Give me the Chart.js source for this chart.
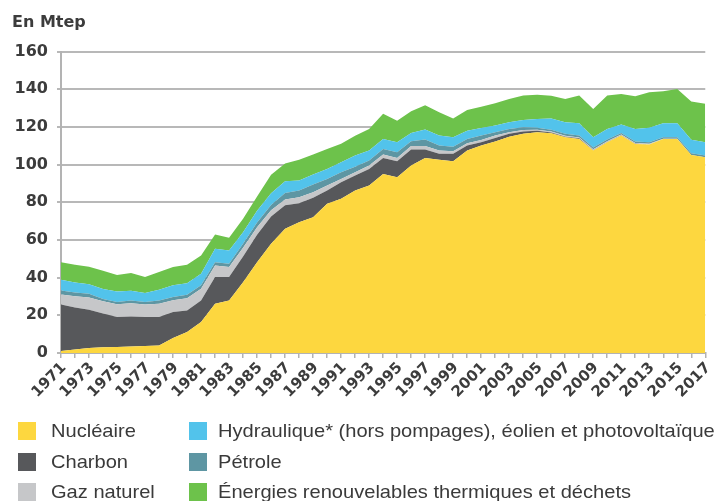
<!DOCTYPE html>
<html><head><meta charset="utf-8">
<script src="https://cdn.jsdelivr.net/npm/chart.js@4.4.0/dist/chart.umd.min.js"></script>
<style>
html,body{margin:0;padding:0;background:#fff;}
#wrap{position:relative;width:719px;height:501px;overflow:hidden;}
canvas{position:absolute;left:0;top:0;}
#legend{position:absolute;left:0;top:0;width:719px;height:501px;font-family:"Liberation Sans",Arial,sans-serif;font-size:18.6px;color:#3a3a3a;}
.sw{position:absolute;width:18px;height:18px;}
.tx{position:absolute;white-space:nowrap;line-height:22px;transform:scaleX(1.08);transform-origin:0 50%;}
</style></head><body>
<div id="wrap"><canvas id="c" width="719" height="501"></canvas><div id="legend"></div></div>
<script>
const years = ['1971','1972','1973','1974','1975','1976','1977','1978','1979','1980',
 '1981','1982','1983','1984','1985','1986','1987','1988','1989','1990',
 '1991','1992','1993','1994','1995','1996','1997','1998','1999','2000',
 '2001','2002','2003','2004','2005','2006','2007','2008','2009','2010',
 '2011','2012','2013','2014','2015','2016','2017'];

const nucleaire = [1.0,1.8,2.7,3.0,3.2,3.5,3.7,4.0,8.0,11.1,
 16.4,26.2,27.9,37.6,48.2,58.0,65.9,69.4,72.1,79.2,
 81.8,86.2,88.9,95.0,93.3,99.5,103.5,102.5,101.7,107.4,
 110.1,112.3,114.8,116.3,117.1,116.6,114.5,113.6,107.4,111.8,
 115.4,110.9,110.6,113.6,113.6,105.1,103.9];
const charbon = [24.8,22.3,20.3,17.9,15.9,15.9,15.4,15.1,13.7,11.5,
 11.5,14.1,12.4,13.6,14.5,14.5,12.5,10.1,10.3,7.0,
 8.8,8.0,8.8,8.5,8.4,8.5,4.5,3.2,4.0,2.7,
 1.7,1.8,1.5,1.2,0.8,0.4,0.3,0.3,0.2,0.2,
 0.1,0.1,0.1,0,0,0,0];
const gazNaturel = [5.3,6.0,6.5,6.5,6.8,7.0,6.6,7.0,6.3,6.5,
 6.2,6.2,5.3,4.7,4.0,3.2,3.0,3.2,2.9,2.7,
 1.8,1.7,1.8,1.8,1.8,1.8,1.8,1.7,1.3,1.2,
 1.3,1.3,0.8,0.9,0.6,0.6,0.5,0.5,0.5,0.4,
 0.4,0.4,0.3,0.1,0.05,0.02,0.02];
const petrole = [2.1,2.0,2.0,1.3,1.2,1.4,1.3,1.7,1.7,1.8,
 1.8,1.7,1.8,2.1,2.6,2.9,3.5,3.5,4.1,3.5,
 3.5,3.0,2.6,3.0,3.0,2.6,3.5,2.7,2.5,2.3,
 2.3,1.7,1.8,1.4,1.0,0.9,1.0,1.0,0.9,0.9,
 0.9,0.8,0.8,0.8,0.8,0.9,0.9];
const hydraulique = [5.7,5.3,5.0,5.3,5.5,5.3,4.8,5.8,6.2,6.1,
 6.2,7.1,7.0,6.1,6.2,6.2,6.2,5.3,5.3,5.3,
 5.3,5.9,5.3,5.3,5.3,4.4,5.3,5.3,5.0,4.4,
 4.0,3.6,3.5,3.9,4.7,6.0,6.1,6.5,5.5,5.6,
 4.4,6.7,7.7,7.4,7.45,7.1,7.0];
const enrThermiques = [9.3,9.4,9.3,9.7,8.8,9.4,8.5,9.4,9.7,9.8,
 9.7,7.6,6.7,7.1,7.5,9.8,9.5,11.0,10.6,10.6,
 9.8,10.5,11.5,13.3,11.5,11.5,12.9,12.3,10.0,11.0,
 11.3,11.8,12.4,12.9,12.9,12.0,12.4,14.7,15.0,17.7,
 16.3,17.3,18.9,17.0,18.2,20.4,20.4];

const seriesLabels = ['Nucléaire','Charbon','Gaz naturel','Pétrole',
 'Hydraulique* (hors pompages), éolien et photovoltaïque',
 'Énergies renouvelables thermiques et déchets'];
const seriesColors = ['#FDD73F','#57585B','#C6C7C9','#5E96A3','#52C3EB','#6DC24B'];
const seriesData = [nucleaire, charbon, gazNaturel, petrole, hydraulique, enrThermiques];

const tickFontColor = '#3c3c3c';
const datasets = seriesData.map((d,i)=>({
  label: seriesLabels[i], data: d,
  backgroundColor: seriesColors[i],
  borderColor: 'rgba(0,0,0,0)', borderWidth: 0,
  pointRadius: 0, tension: 0,
  fill: i===0 ? 'origin' : '-1'
}));

const chart = new Chart(document.getElementById('c'), {
  type: 'line',
  data: { labels: years, datasets },
  options: {
    responsive: false, animation: false,
    layout: { padding: { left: 12, right: 9, top: 0, bottom: 98 } },
    plugins: {
      legend: { display: false }, tooltip: { enabled: false },
      title: { display: true, text: 'En Mtep', align: 'start', color: tickFontColor,
        font: { family: 'DejaVu Sans', size: 16, weight: 'bold', lineHeight: 1.2 },
        padding: { top: 13, bottom: 19.3 } }
    },
    scales: {
      x: {
        type: 'category', offset: false,
        grid: { display: true, drawOnChartArea: false, drawTicks: true, tickLength: 5, color: '#b3b3b3', lineWidth: 1.5 },
        border: { display: true, color: '#b3b3b3', width: 2 },
        ticks: { autoSkip: false, minRotation: 45, maxRotation: 45, padding: 1, labelOffset: 3, color: tickFontColor,
          font: { family: 'DejaVu Sans', size: 15, weight: 'bold' },
          callback: (v, i) => (i % 2 === 0 ? years[i] : '') },
        afterFit: s => { s.height = 50; }
      },
      y: {
        stacked: true, min: 0, max: 160,
        grid: { color: '#b8b8b8', lineWidth: 2, tickLength: 4, drawTicks: true },
        border: { display: true, color: '#b3b3b3', width: 2 },
        ticks: { stepSize: 20, padding: 9, color: tickFontColor,
          font: { family: 'DejaVu Sans', size: 16, weight: 'bold' } },
        afterFit: s => { s.width = 49; }
      }
    }
  }
});

// HTML legend built from the datasets (two columns)
const legendLayout = [
  { idx: 0, sx: 18, tx: 51, cy: 431 },
  { idx: 1, sx: 18, tx: 51, cy: 462 },
  { idx: 2, sx: 18, tx: 51, cy: 492 },
  { idx: 4, sx: 189, tx: 218, cy: 431 },
  { idx: 3, sx: 189, tx: 218, cy: 462 },
  { idx: 5, sx: 189, tx: 218, cy: 492 }
];
const leg = document.getElementById('legend');
legendLayout.forEach(p => {
  const ds = chart.data.datasets[p.idx];
  const sw = document.createElement('div');
  sw.className = 'sw';
  sw.style.left = p.sx + 'px';
  sw.style.top = (p.cy - 9) + 'px';
  sw.style.background = ds.backgroundColor;
  leg.appendChild(sw);
  const t = document.createElement('div');
  t.className = 'tx';
  t.style.left = p.tx + 'px';
  t.style.top = (p.cy - 11) + 'px';
  t.textContent = ds.label;
  leg.appendChild(t);
});
</script>
</body></html>
